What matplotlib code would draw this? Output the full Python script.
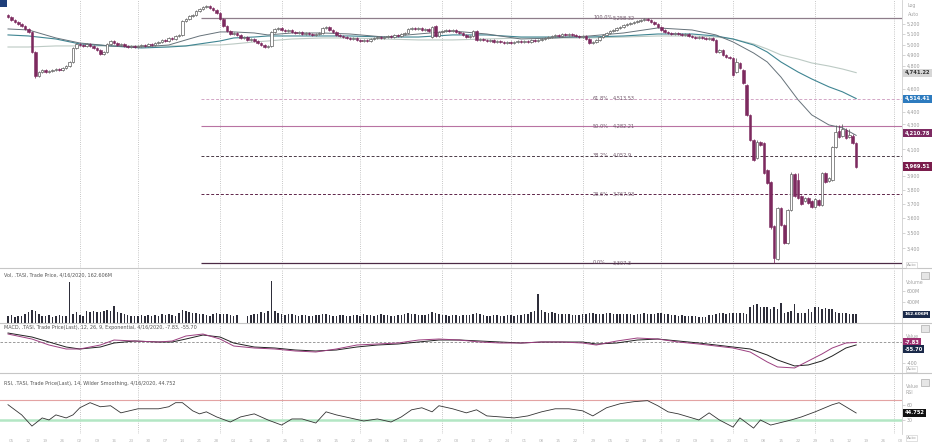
import numpy as np
import pandas as pd
import matplotlib
matplotlib.use('Agg')
import matplotlib.pyplot as plt
from matplotlib.lines import Line2D
from matplotlib.patches import Rectangle
from matplotlib.ticker import FixedLocator, FuncFormatter, NullLocator
from matplotlib.transforms import offset_copy

plt.rcParams['font.family'] = 'DejaVu Sans'

# .TASI daily candles, last bar 4/16/2020
opens = [5288, 5268, 5238, 5219, 5199, 5179, 5150, 5121, 4930, 4711,
         4747, 4765, 4747, 4756, 4765, 4774, 4765, 4783, 4801, 4838,
         4968, 5006, 4996, 4987, 5006, 4987, 4968, 4949, 4912, 4930,
         5006, 5034, 5015, 4996, 5006, 4987, 4977, 4987, 4977, 4987,
         4996, 4987, 5006, 4996, 5015, 5025, 5044, 5034, 5063, 5053,
         5082, 5092, 5229, 5248, 5278, 5288, 5329, 5349, 5369, 5379,
         5359, 5339, 5308, 5248, 5179, 5130, 5101, 5111, 5092, 5063,
         5072, 5044, 5053, 5034, 5015, 4996, 4977, 4987, 5121, 5150,
         5160, 5140, 5130, 5140, 5121, 5111, 5121, 5101, 5111, 5101,
         5092, 5101, 5111, 5160, 5169, 5140, 5121, 5092, 5082, 5072,
         5063, 5053, 5063, 5044, 5034, 5044, 5034, 5053, 5063, 5072,
         5063, 5072, 5082, 5072, 5092, 5082, 5101, 5111, 5150, 5160,
         5150, 5160, 5140, 5150, 5072, 5179, 5082, 5121, 5130, 5140,
         5130, 5140, 5121, 5111, 5092, 5072, 5082, 5130, 5044, 5053,
         5044, 5034, 5044, 5025, 5034, 5025, 5015, 5025, 5015, 5025,
         5034, 5025, 5034, 5025, 5044, 5034, 5044, 5053, 5063, 5072,
         5082, 5092, 5082, 5101, 5092, 5101, 5092, 5082, 5072, 5082,
         5053, 5015, 5025, 5044, 5072, 5092, 5111, 5130, 5140, 5160,
         5169, 5189, 5199, 5209, 5219, 5229, 5238, 5248, 5238, 5219,
         5199, 5169, 5140, 5121, 5111, 5101, 5111, 5101, 5092, 5101,
         5082, 5072, 5063, 5072, 5063, 5053, 5063, 5044, 4930, 4949,
         4903, 4884, 4875, 4747, 4829, 4765, 4632, 4377, 4175, 4035,
         4159, 4151, 3944, 3856, 3547, 3333, 3670, 3554, 3435, 3657,
         3915, 3870, 3755, 3719, 3741, 3719, 3677, 3727, 3691, 3922,
         3863, 3870, 4120, 4247, 4207, 4255, 4199, 4207, 4151]
highs = [5298, 5275, 5246, 5226, 5207, 5186, 5158, 5130, 4942, 4758,
         4772, 4773, 4762, 4771, 4782, 4779, 4790, 4809, 4846, 4975,
         5015, 5012, 5003, 5014, 5012, 4993, 4975, 4955, 4938, 5013,
         5042, 5040, 5021, 5012, 5011, 4993, 4994, 4993, 4993, 5003,
         5002, 5013, 5012, 5022, 5031, 5050, 5050, 5070, 5069, 5089,
         5099, 5236, 5256, 5286, 5296, 5336, 5356, 5378, 5390, 5386,
         5366, 5345, 5315, 5255, 5186, 5137, 5118, 5117, 5098, 5079,
         5078, 5060, 5059, 5040, 5021, 5002, 4994, 5128, 5157, 5168,
         5166, 5146, 5147, 5146, 5127, 5128, 5127, 5117, 5117, 5107,
         5108, 5117, 5167, 5176, 5175, 5146, 5127, 5098, 5088, 5078,
         5069, 5069, 5069, 5050, 5050, 5050, 5060, 5069, 5079, 5078,
         5079, 5088, 5088, 5098, 5098, 5107, 5118, 5157, 5167, 5166,
         5167, 5166, 5156, 5156, 5176, 5186, 5127, 5137, 5147, 5146,
         5147, 5146, 5127, 5117, 5098, 5088, 5137, 5137, 5060, 5059,
         5050, 5050, 5050, 5040, 5040, 5031, 5031, 5031, 5031, 5040,
         5040, 5040, 5040, 5050, 5050, 5050, 5060, 5069, 5079, 5088,
         5098, 5098, 5107, 5107, 5107, 5107, 5098, 5088, 5088, 5088,
         5059, 5031, 5050, 5079, 5098, 5118, 5137, 5147, 5167, 5176,
         5196, 5206, 5216, 5226, 5236, 5245, 5255, 5258.32, 5245, 5226,
         5206, 5176, 5147, 5127, 5117, 5117, 5117, 5107, 5107, 5107,
         5088, 5078, 5079, 5078, 5069, 5069, 5069, 5050, 4958, 4956,
         4910, 4891, 4882, 4875, 4840, 4772, 4640, 4385, 4183, 4175,
         4168, 4160, 3952, 3862, 3555, 3680, 3678, 3562, 3664, 3930,
         3922, 3922, 3763, 3748, 3748, 3726, 3741, 3734, 3930, 3930,
         3892, 4127, 4290, 4295, 4300, 4270, 4260, 4222, 4160]
lows = [5262, 5231, 5211, 5192, 5172, 5143, 5114, 4922, 4693, 4703,
        4740, 4740, 4740, 4749, 4758, 4757, 4758, 4776, 4794, 4830,
        4960, 4989, 4980, 4980, 4980, 4961, 4942, 4904, 4905, 4923,
        4999, 5008, 4989, 4989, 4980, 4970, 4970, 4970, 4970, 4980,
        4980, 4980, 4989, 4989, 5008, 5018, 5027, 5027, 5046, 5046,
        5075, 5085, 5222, 5241, 5271, 5281, 5322, 5342, 5362, 5352,
        5332, 5301, 5241, 5172, 5123, 5094, 5094, 5085, 5056, 5056,
        5037, 5037, 5027, 5008, 4989, 4970, 4970, 4980, 5114, 5143,
        5133, 5123, 5123, 5114, 5104, 5104, 5094, 5094, 5094, 5085,
        5085, 5094, 5104, 5153, 5133, 5114, 5085, 5075, 5065, 5056,
        5046, 5046, 5037, 5027, 5027, 5027, 5027, 5046, 5056, 5056,
        5056, 5065, 5065, 5065, 5075, 5075, 5094, 5104, 5143, 5143,
        5143, 5133, 5133, 5123, 5065, 5075, 5075, 5114, 5123, 5123,
        5123, 5114, 5104, 5085, 5065, 5065, 5075, 5037, 5037, 5037,
        5027, 5027, 5018, 5018, 5018, 5008, 5008, 5008, 5008, 5018,
        5018, 5018, 5018, 5018, 5027, 5027, 5037, 5046, 5056, 5065,
        5075, 5075, 5075, 5085, 5085, 5085, 5075, 5065, 5065, 5046,
        5008, 5008, 5018, 5037, 5065, 5085, 5104, 5123, 5133, 5153,
        5162, 5182, 5192, 5202, 5212, 5222, 5231, 5231, 5212, 5192,
        5162, 5133, 5114, 5104, 5094, 5094, 5094, 5085, 5085, 5075,
        5065, 5056, 5056, 5056, 5046, 5046, 5037, 4922, 4922, 4895,
        4876, 4866, 4711, 4740, 4775, 4640, 4368, 4166, 4010, 4025,
        4128, 3912, 3838, 3530, 3307.3, 3325, 3545, 3425, 3428, 3650,
        3745, 3733, 3690, 3712, 3697, 3668, 3670, 3683, 3684, 3848,
        3855, 3862, 4112, 4190, 4198, 4183, 4190, 4143, 3962]
closes = [5268, 5238, 5219, 5199, 5179, 5150, 5121, 4930, 4711, 4747,
          4765, 4747, 4756, 4765, 4774, 4765, 4783, 4801, 4838, 4968,
          5006, 4996, 4987, 5006, 4987, 4968, 4949, 4912, 4930, 5006,
          5034, 5015, 4996, 5006, 4987, 4977, 4987, 4977, 4987, 4996,
          4987, 5006, 4996, 5015, 5025, 5044, 5034, 5063, 5053, 5082,
          5092, 5229, 5248, 5278, 5288, 5329, 5349, 5369, 5379, 5359,
          5339, 5308, 5248, 5179, 5130, 5101, 5111, 5092, 5063, 5072,
          5044, 5053, 5034, 5015, 4996, 4977, 4987, 5121, 5150, 5160,
          5140, 5130, 5140, 5121, 5111, 5121, 5101, 5111, 5101, 5092,
          5101, 5111, 5160, 5169, 5140, 5121, 5092, 5082, 5072, 5063,
          5053, 5063, 5044, 5034, 5044, 5034, 5053, 5063, 5072, 5063,
          5072, 5082, 5072, 5092, 5082, 5101, 5111, 5150, 5160, 5150,
          5160, 5140, 5150, 5130, 5169, 5082, 5121, 5130, 5140, 5130,
          5140, 5121, 5111, 5092, 5072, 5082, 5130, 5044, 5053, 5044,
          5034, 5044, 5025, 5034, 5025, 5015, 5025, 5015, 5025, 5034,
          5025, 5034, 5025, 5044, 5034, 5044, 5053, 5063, 5072, 5082,
          5092, 5082, 5101, 5092, 5101, 5092, 5082, 5072, 5082, 5053,
          5015, 5025, 5044, 5072, 5092, 5111, 5130, 5140, 5160, 5169,
          5189, 5199, 5209, 5219, 5229, 5238, 5248, 5238, 5219, 5199,
          5169, 5140, 5121, 5111, 5101, 5111, 5101, 5092, 5101, 5082,
          5072, 5063, 5072, 5063, 5053, 5063, 5044, 4930, 4949, 4903,
          4884, 4875, 4720, 4838, 4783, 4649, 4377, 4175, 4020, 4159,
          4136, 3922, 3848, 3541, 3339, 3670, 3554, 3435, 3657, 3915,
          3755, 3741, 3698, 3741, 3705, 3677, 3734, 3691, 3922, 3856,
          3885, 4120, 4239, 4199, 4263, 4191, 4215, 4151, 3969.51]

# volume in millions
volume_m = [130, 150, 120, 140, 125, 160, 210, 250, 230, 170,
            140, 130, 150, 120, 135, 145, 125, 140, 760, 160,
            210, 150, 140, 220, 215, 230, 200, 205, 225, 240,
            230, 320, 215, 185, 160, 150, 140, 130, 125, 150,
            140, 155, 130, 150, 140, 165, 155, 175, 150, 140,
            195, 250, 225, 205, 180, 190, 170, 160, 150, 140,
            165, 185, 175, 160, 165, 150, 140, 150, 0, 0,
            140, 150, 160, 175, 210, 195, 225, 790, 230, 195,
            175, 150, 160, 165, 150, 140, 155, 150, 140, 130,
            150, 145, 170, 160, 150, 140, 135, 150, 145, 130,
            140, 155, 150, 140, 160, 150, 145, 140, 150, 160,
            155, 150, 140, 135, 145, 155, 165, 180, 170, 160,
            150, 145, 155, 175, 200, 190, 160, 150, 145, 140,
            150, 145, 140, 155, 150, 145, 160, 185, 165, 150,
            140, 135, 145, 150, 140, 135, 150, 145, 140, 155,
            150, 160, 175, 200, 230, 550, 240, 210, 190, 200,
            185, 175, 165, 160, 170, 155, 150, 145, 160, 175,
            190, 180, 170, 165, 175, 185, 180, 170, 175, 165,
            160, 170, 160, 155, 165, 175, 180, 170, 160, 175,
            190, 185, 170, 160, 150, 145, 140, 150, 135, 130,
            140, 125, 115, 120, 115, 150, 145, 160, 185, 180,
            175, 190, 185, 195, 190, 180, 175, 305, 330, 355,
            305, 290, 290, 270, 290, 255, 365, 180, 205, 220,
            350, 180, 180, 195, 255, 205, 290, 290, 255, 280,
            265, 255, 205, 195, 190, 190, 175, 170, 162.606]

# moving averages, read at a coarser step
ma_idx = [0, 6, 14, 21, 30, 39, 47, 52, 56, 62,
          66, 72, 76, 83, 92, 100, 110, 120, 130, 140,
          150, 160, 170, 180, 190, 200, 207, 212, 218, 222,
          226, 231, 235, 240, 244, 248]
ma_fast = [5150, 5140, 5063, 5015, 4987, 4977, 4996, 5044, 5082, 5121,
           5121, 5111, 5092, 5111, 5111, 5101, 5072, 5101, 5130, 5101,
           5053, 5063, 5082, 5111, 5160, 5140, 5092, 5025, 4921, 4838,
           4702, 4504, 4377, 4295, 4271, 4210.78]
ma_mid = [5092, 5082, 5053, 5006, 4987, 4968, 4977, 4987, 5006, 5034,
          5063, 5072, 5082, 5082, 5082, 5082, 5072, 5072, 5092, 5092,
          5072, 5072, 5072, 5082, 5101, 5101, 5082, 5053, 4996, 4930,
          4838, 4747, 4685, 4616, 4572, 4514.41]
ma_slow = [4977, 4977, 4987, 4987, 4987, 4987, 4987, 4987, 4996, 4996,
           5006, 5025, 5034, 5053, 5063, 5063, 5053, 5044, 5044, 5053,
           5063, 5063, 5063, 5072, 5082, 5082, 5072, 5053, 5006, 4958,
           4903, 4865, 4829, 4801, 4774, 4741.22]

# fibonacci retracement
fib_pct = [100.0, 61.8, 50.0, 38.2, 23.6, 0.0]
fib_val = [5258.32, 4513.53, 4282.21, 4052.9, 3767.93, 3307.3]

# MACD 12, 26, 9
macd_idx = [0, 7, 12, 17, 21, 27, 31, 37, 44, 48,
            52, 57, 62, 66, 72, 78, 84, 90, 96, 102,
            108, 114, 120, 126, 132, 138, 144, 150, 156, 162,
            168, 172, 178, 184, 190, 196, 202, 207, 212, 217,
            222, 225, 230, 234, 238, 241, 245, 248]
macd_line = [152, 57, -57, -133, -133, -57, 38, 19, 0, 19,
             114, 152, 57, -76, -114, -133, -171, -190, -133, -57,
             -38, -19, 38, 57, 38, 0, -19, -19, 0, 0,
             -19, -57, 19, 76, 57, 0, -38, -76, -114, -190,
             -380, -475, -494, -361, -228, -114, -19, -7.83]
macd_signal = [171, 95, 0, -95, -133, -95, -19, 19, 0, 0,
               57, 133, 95, -19, -95, -114, -152, -171, -152, -95,
               -57, -38, 0, 38, 38, 19, 0, -19, 0, 0,
               0, -38, -19, 38, 57, 19, -19, -57, -95, -133,
               -247, -342, -456, -437, -361, -266, -114, -55.70]

# RSI 14
rsi_idx = [0, 4, 7, 10, 12, 14, 17, 19, 21, 24,
           27, 30, 33, 38, 44, 47, 49, 51, 54, 56,
           58, 61, 65, 68, 72, 76, 80, 83, 86, 90,
           93, 96, 100, 104, 108, 112, 115, 118, 121, 124,
           126, 130, 134, 137, 140, 144, 148, 152, 156, 160,
           164, 168, 171, 175, 179, 183, 187, 190, 193, 196,
           199, 202, 205, 208, 212, 214, 218, 220, 223, 229,
           232, 236, 241, 243, 248]
rsi_vals = [61, 41, 19, 35, 31, 41, 35, 41, 55, 65,
            57, 59, 45, 53, 53, 57, 65, 65, 49, 43,
            47, 37, 27, 37, 43, 31, 21, 33, 33, 25,
            47, 41, 35, 29, 33, 27, 37, 51, 55, 47,
            59, 53, 45, 51, 39, 37, 35, 39, 47, 53,
            53, 49, 39, 55, 63, 67, 69, 59, 47, 43,
            37, 31, 45, 31, 17, 35, 15, 31, 21, 31,
            37, 47, 61, 65, 44.752]

# first bar of each month
month_starts = [21, 38, 62, 80, 103, 127, 147, 168, 191, 212, 236, 259]

price_ticks = list(range(3400, 5300, 100))

n = len(closes)
assert len(opens) == len(highs) == len(lows) == n == len(volume_m)
x = np.arange(n)
o = np.array(opens, float)
c = np.array(closes, float)
hi = np.array(highs, float)
lo = np.array(lows, float)

W, H = 932, 446
fig = plt.figure(figsize=(W / 100, H / 100), dpi=100)


def fx(px):
    return px / W


def fy(px):
    return 1 - px / H


pw = 902 / W
ax = fig.add_axes([0, fy(268), pw, 268 / H])
axv = fig.add_axes([0, fy(323), pw, 54 / H], sharex=ax)
axm = fig.add_axes([0, fy(372), pw, 48 / H], sharex=ax)
axr = fig.add_axes([0, fy(434), pw, 61 / H], sharex=ax)
XL, XR = -2.34, 261.4
YLO, YHI = 3276, 5440

for a in (ax, axv, axm, axr):
    for s in ('top', 'left', 'bottom'):
        a.spines[s].set_visible(False)
    a.spines['right'].set_color('#cfcfcf')
    a.spines['right'].set_linewidth(0.6)
    a.yaxis.tick_right()
    a.tick_params(axis='y', which='both', length=2, width=0.4, color='#b5b5b5',
                  labelcolor='#9a9a9a', labelsize=3.4, pad=1.2)
    a.tick_params(axis='x', which='both', bottom=False, labelbottom=False)
    for m in month_starts:
        a.axvline(m, color='#b4b4b4', lw=0.6, ls=(0, (1, 1.6)), zorder=0)
ax.set_xlim(XL, XR)

# ---- price panel ----
ax.set_yscale('log')
ax.set_ylim(YLO, YHI)

# value tags on the right hide the tick labels they sit on
tag_vals = [ma_slow[-1], ma_mid[-1], ma_fast[-1], closes[-1]]
px_per_log = 268 / np.log(YHI / YLO)
shown_ticks = [t for t in price_ticks
               if min(abs(np.log(t / v)) * px_per_log for v in tag_vals) > 5.5]
ax.yaxis.set_major_locator(FixedLocator(shown_ticks))
ax.yaxis.set_minor_locator(NullLocator())
ax.yaxis.set_major_formatter(FuncFormatter(lambda v, p: f'{v:,.0f}'))

purple = '#7d2a5f'
up = c >= o
ax.vlines(x[up], lo[up], hi[up], color='#5e5e5e', lw=0.55, zorder=3)
ax.vlines(x[~up], lo[~up], hi[~up], color=purple, lw=0.55, zorder=3)
body_lo = np.minimum(o, c)
body_h = np.abs(c - o)
ax.bar(x[up], body_h[up], bottom=body_lo[up], width=0.75, color='white',
       edgecolor='#5e5e5e', lw=0.5, zorder=4)
ax.bar(x[~up], body_h[~up], bottom=body_lo[~up], width=0.75, color=purple,
       edgecolor=purple, lw=0.4, zorder=4)

ax.plot(ma_idx, ma_slow, color='#bccac4', lw=0.8, zorder=2)
ax.plot(ma_idx, ma_mid, color='#3f8592', lw=0.8, zorder=2)
ax.plot(ma_idx, ma_fast, color='#66727a', lw=0.7, zorder=2)

fib_style = [('-', '#8e7d8a', 0.9), ((0, (3, 2)), '#d3a6c6', 0.7), ('-', '#b873a3', 0.8),
             ((0, (3, 2)), '#4a3a46', 0.7), ((0, (3, 2)), '#5e2449', 0.7), ('-', '#4c2a45', 0.9)]
fib_x0 = int(np.argmax(hi)) - 1.5
ytr = ax.get_yaxis_transform()
for pct, val, (ls, col, lw) in zip(fib_pct, fib_val, fib_style):
    ax.hlines(val, fib_x0, XR, colors=col, linestyles=ls, lw=lw, zorder=1)
    ax.text(593 / 902, val, f'{pct:.1f}%', transform=ytr, fontsize=3.6,
            color='#6e5568', ha='left', va='center')
    ax.text(613 / 902, val, f'{val:,}', transform=ytr, fontsize=3.6,
            color='#6e5568', ha='left', va='center')


def tag(a, val, txt, fc, tc='white', dy=0, size=3.7):
    tr = offset_copy(a.get_yaxis_transform(), fig=fig, x=0, y=dy, units='points')
    a.text(1.003, val, txt, transform=tr, fontsize=size, fontweight='bold', color=tc,
           ha='left', va='center', zorder=20, clip_on=False,
           bbox=dict(boxstyle='square,pad=0.3', fc=fc, ec='none'))


tag(ax, ma_slow[-1], f'{ma_slow[-1]:,.2f}', '#d6d6d6', tc='#333333')
tag(ax, ma_mid[-1], f'{ma_mid[-1]:,.2f}', '#2d7bbf')
tag(ax, ma_fast[-1], f'{ma_fast[-1]:,.2f}', '#7d2a62', dy=1.5)
tag(ax, closes[-1], f'{closes[-1]:,.2f}', '#7a1d4c')

# ---- volume panel ----
axv.bar(x, volume_m, width=0.45, color='#2e2e3a', zorder=2)
axv.set_ylim(0, 1010)
axv.set_yticks([400, 600])
axv.set_yticklabels(['400M', '600M'])
tag(axv, volume_m[-1], f'{volume_m[-1]:.3f}M', '#1b2a4a', size=3.2)

# ---- MACD panel ----
axm.axhline(0, color='#8a8a8a', lw=0.6, ls=(0, (3, 2)), zorder=1)
axm.plot(macd_idx, macd_signal, color='#222222', lw=0.7, zorder=2)
axm.plot(macd_idx, macd_line, color='#9c3f80', lw=0.7, zorder=3)
axm.set_ylim(-571, 343)
axm.set_yticks([-400])
axm.set_yticklabels(['-400'])
tag(axm, macd_line[-1], f'{macd_line[-1]:.2f}', '#9c2f6f')
tag(axm, macd_signal[-1], f'{macd_signal[-1]:.2f}', '#1b2a4a', dy=-3)

# ---- RSI panel ----
axr.axhline(70, color='#e3a3a3', lw=0.8, zorder=1)
axr.axhline(30, color='#b3e6c4', lw=1.8, zorder=1)
axr.plot(rsi_idx, rsi_vals, color='#333333', lw=0.6, zorder=3)
axr.set_ylim(3.4, 123.4)
axr.set_yticks([30, 60])
tag(axr, rsi_vals[-1], f'{rsi_vals[-1]:.3f}', '#111111')

# panel titles
title_kw = dict(fontsize=3.5, color='#555555', ha='left', va='center')
fig.text(fx(4), fy(275), 'Vol, .TASI, Trade Price, 4/16/2020, 162.606M', **title_kw)
fig.text(fx(4), fy(328), 'MACD, .TASI, Trade Price(Last), 12, 26, 9, Exponential, 4/16/2020, -7.83, -55.70', **title_kw)
fig.text(fx(4), fy(383), 'RSI, .TASI, Trade Price(Last), 14, Wilder Smoothing, 4/16/2020, 44.752', **title_kw)

# right-hand axis captions
cap_kw = dict(fontsize=3.4, color='#a5a5a5', ha='left', va='center')
fig.text(fx(908), fy(6), 'Log', **cap_kw)
fig.text(fx(908), fy(14), 'Auto', **cap_kw)
fig.text(fx(906), fy(282), 'Volume', **cap_kw)
fig.text(fx(906), fy(336), 'Value', **cap_kw)
fig.text(fx(906), fy(386), 'Value', **cap_kw)
fig.text(fx(906), fy(393), 'RSI', **cap_kw)
auto_kw = dict(fontsize=3.0, color='#a0a0a0', ha='left', va='center',
               bbox=dict(boxstyle='square,pad=0.2', fc='white', ec='#c8c8c8', lw=0.4))
for py in (265, 369, 438):
    fig.text(fx(907), fy(py), 'Auto', **auto_kw)
for py in (272, 325, 379):
    fig.add_artist(Rectangle((fx(921), fy(py + 7)), 8 / W, 7 / H, transform=fig.transFigure,
                             fc='#e6e6e6', ec='#9a9a9a', lw=0.4))
fig.add_artist(Rectangle((0, fy(7)), 7 / W, 7 / H, transform=fig.transFigure,
                         fc='#1f3f7a', ec='none'))

# panel separators
for py in (268, 323, 373):
    fig.add_artist(Line2D([0, 1], [fy(py), fy(py)], transform=fig.transFigure,
                          color='#c6c6c6', lw=0.8))

# weekly date labels along the bottom
week_pos = np.arange(1, XR, 5)
week_lab = pd.date_range('2019-05-05', periods=len(week_pos), freq='7D').strftime('%d')
for p, lab in zip(week_pos, week_lab):
    axr.text(p, -0.115, lab, transform=axr.get_xaxis_transform(), fontsize=3.0,
             color='#b8b8b8', ha='center', va='center', clip_on=False)

fig.savefig('out.png', dpi=100, facecolor='white')
